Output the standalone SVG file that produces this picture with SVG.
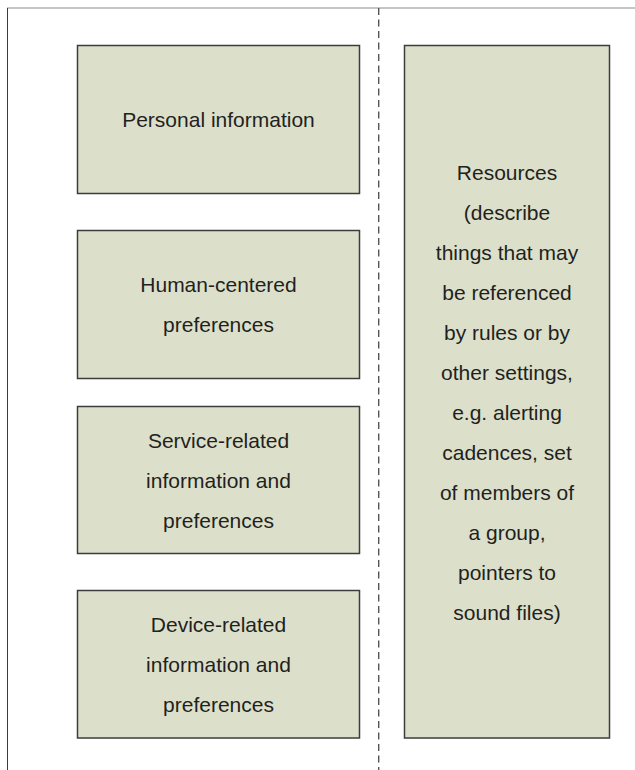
<svg xmlns="http://www.w3.org/2000/svg" width="635" height="770" viewBox="0 0 635 770">
<style>
.box{fill:#dce0cb;stroke:#3c3c3c;stroke-width:1.5}
.t{font-family:"Liberation Sans",Arial,sans-serif;font-size:21px;fill:#231f20;text-anchor:middle}
</style>
<rect width="635" height="770" fill="#ffffff"/>
<g id="frame">
<line x1="7" y1="8" x2="635" y2="8" stroke="#8c8c8c" stroke-width="1"/>
<line x1="7.5" y1="8" x2="7.5" y2="770" stroke="#3c3c3c" stroke-width="1"/>
</g>
<g id="connectors">
<line x1="378.7" y1="8" x2="378.7" y2="770" stroke="#555555" stroke-width="1.4" stroke-dasharray="7,4.5"/>
</g>
<g id="personal">
<rect class="box" x="77.5" y="45.5" width="282" height="148"/>
<text class="t" x="218.5" y="127">Personal information</text>
</g>
<g id="human">
<rect class="box" x="77.5" y="230.5" width="282" height="148"/>
<text class="t" x="218.5" y="292">Human-centered</text>
<text class="t" x="218.5" y="332">preferences</text>
</g>
<g id="service">
<rect class="box" x="77.5" y="406.5" width="282" height="147"/>
<text class="t" x="218.5" y="447.5">Service-related</text>
<text class="t" x="218.5" y="487.5">information and</text>
<text class="t" x="218.5" y="527.5">preferences</text>
</g>
<g id="device">
<rect class="box" x="77.5" y="590.5" width="282" height="147.5"/>
<text class="t" x="218.5" y="631.5">Device-related</text>
<text class="t" x="218.5" y="671.5">information and</text>
<text class="t" x="218.5" y="711.5">preferences</text>
</g>
<g id="resources">
<rect class="box" x="404.5" y="45.5" width="205" height="692.5"/>
<text class="t" x="507" y="180">Resources</text>
<text class="t" x="507" y="220">(describe</text>
<text class="t" x="507" y="260">things that may</text>
<text class="t" x="507" y="300">be referenced</text>
<text class="t" x="507" y="340">by rules or by</text>
<text class="t" x="507" y="380">other settings,</text>
<text class="t" x="507" y="420">e.g. alerting</text>
<text class="t" x="507" y="460">cadences, set</text>
<text class="t" x="507" y="500">of members of</text>
<text class="t" x="507" y="540">a group,</text>
<text class="t" x="507" y="580">pointers to</text>
<text class="t" x="507" y="620">sound files)</text>
</g>
</svg>
